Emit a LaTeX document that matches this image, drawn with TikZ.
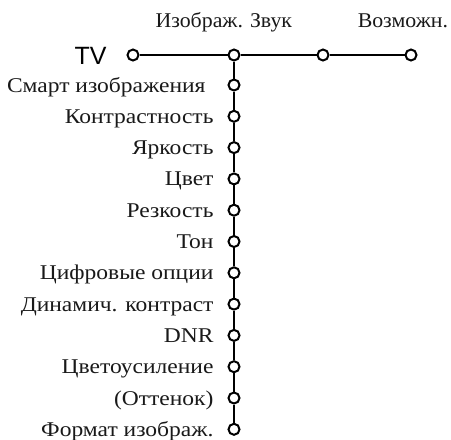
\documentclass[tikz,border=0pt]{standalone}
\usepackage{fontspec}
\setmainfont{Liberation Serif}
\newfontfamily\itemfont{Liberation Serif}[FakeStretch=1.12]
\newfontfamily\headfont{Liberation Serif}[FakeStretch=1.04]
\newfontfamily\tvfont{Liberation Sans}
\usetikzlibrary{positioning, calc}

\begin{document}
\begin{tikzpicture}[
    x=1pt, y=-1pt,
    knot/.style = {circle, draw, line width=2pt, fill=white, minimum size=11pt, inner sep=0pt},
    item/.style = {inner sep=0pt, outer sep=0pt, text height=14pt, text depth=0pt, font=\itemfont\fontsize{21}{24}\selectfont, text=black!90},
    head/.style = {inner sep=0pt, outer sep=0pt, font=\headfont\fontsize{21}{24}\selectfont, text=black!90},
    wire/.style = {line width=2pt},
  ]
  \useasboundingbox (0,0) rectangle (451,440);
  % main menu row
  \node[knot] (tv) at (133,55) {};
  \node[knot] (pic) at (234,55) {};
  \node[knot] (snd) at (323,55) {};
  \node[knot] (opt) at (411,55) {};
  \node[inner sep=0pt, outer sep=0pt, text height=18pt, text depth=0pt, font=\tvfont\fontsize{25}{28}\selectfont, left=20pt of tv] (tvlbl) {TV};
  \node[head, anchor=base east] (pichd) at ($(pic)+(9,-28)$) {Изображ.};
  \node[head, anchor=base west] (sndhd) at ($(snd)+(-73,-28)$) {Звук};
  \node[head, anchor=base east] (opthd) at ($(opt)+(37,-28)$) {Возможн.};
  % picture submenu
  \foreach \txt [count=\i] in {Смарт изображения, Контрастность, Яркость, Цвет, Резкость, Тон,
      Цифровые опции, Динамич. контраст, DNR, Цветоусиление, {(Оттенок)}, Формат изображ.} {
    \node[knot] (c\i) at (234,{85+31.3*(\i-1)}) {};
    \node[item, left=14pt of c\i, xshift={-8pt*(\i==1)}] (l\i) {\txt};
  }
  % connectors
  \draw[wire] (tv) -- (pic) -- (snd) -- (opt);
  \draw[wire] (pic) -- (c1);
  \foreach \i [evaluate=\i as \j using int(\i+1)] in {1,...,11}
    \draw[wire] (c\i) -- (c\j);
\end{tikzpicture}
\end{document}
